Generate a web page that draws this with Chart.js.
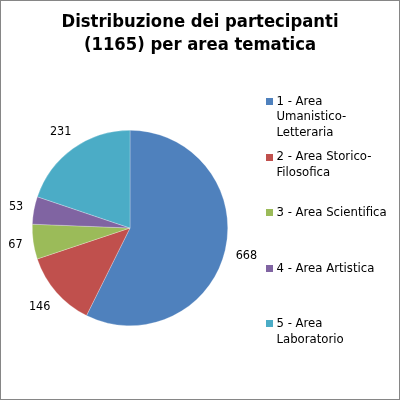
<!DOCTYPE html>
<html><head><meta charset="utf-8">
<script src="https://cdn.jsdelivr.net/npm/chart.js@4.4.0/dist/chart.umd.min.js"></script>
<style>html,body{margin:0;padding:0;background:#fff}#wrap{width:400px;height:400px;position:relative}</style>
</head><body><div id="wrap"><canvas id="c" width="400" height="400"></canvas></div>
<script>
const titleLines = ['Distribuzione dei partecipanti', '(1165) per area tematica'];
const categories = [
  ['1 - Area', 'Umanistico-', 'Letteraria'],
  ['2 - Area Storico-', 'Filosofica'],
  ['3 - Area Scientifica'],
  ['4 - Area Artistica'],
  ['5 - Area', 'Laboratorio']
];
const values = [668, 146, 67, 53, 231];
const colors = ['#4F81BD', '#C0504D', '#9BBB59', '#8064A2', '#4BACC6'];

const FONT = '"DejaVu Sans Condensed", "DejaVu Sans", sans-serif';

const decor = {
  id: 'decor',
  afterDraw(chart) {
    const ctx = chart.ctx;
    ctx.save();
    // title
    ctx.fillStyle = '#000';
    ctx.font = 'bold 18.3px ' + FONT;
    ctx.textAlign = 'center';
    ctx.textBaseline = 'middle';
    titleLines.forEach((t, i) => ctx.fillText(t, 200, 22 + i * 23));
    // data labels
    ctx.font = '12.5px ' + FONT;
    const meta = chart.getDatasetMeta(0);
    meta.data.forEach((arc, i) => {
      const p = arc.getProps(['x', 'y', 'startAngle', 'endAngle', 'outerRadius'], true);
      const a = (p.startAngle + p.endAngle) / 2;
      const txt = String(values[i]);
      const w = ctx.measureText(txt).width, h = 12;
      const push = (w / 2) * Math.abs(Math.cos(a)) + (h / 2) * Math.abs(Math.sin(a));
      const r = p.outerRadius + 10 + push;
      ctx.fillText(txt, p.x + r * Math.cos(a), p.y + r * Math.sin(a));
    });
    // legend
    ctx.font = '13px ' + FONT;
    ctx.textAlign = 'left';
    categories.forEach((lines, i) => {
      const y0 = 101.5 + i * 55.6;
      ctx.fillStyle = colors[i];
      ctx.fillRect(266, Math.round(y0 - 3.5), 7, 7);
      ctx.fillStyle = '#000';
      lines.forEach((l, j) => ctx.fillText(l, 276.5, y0 + j * 15.5));
    });
    // outer border
    ctx.strokeStyle = '#868686';
    ctx.lineWidth = 1;
    ctx.strokeRect(0.5, 0.5, 399, 399);
    ctx.restore();
  }
};

new Chart(document.getElementById('c'), {
  type: 'pie',
  data: {
    labels: categories,
    datasets: [{
      data: values,
      backgroundColor: colors,
      borderColor: 'rgba(255,255,255,0.5)',
      borderWidth: 0.5
    }]
  },
  options: {
    responsive: false,
    animation: false,
    events: [],
    layout: { padding: { left: 32, right: 172, top: 130, bottom: 74 } },
    plugins: { legend: { display: false }, tooltip: { enabled: false }, title: { display: false } }
  },
  plugins: [decor]
});
</script></body></html>
